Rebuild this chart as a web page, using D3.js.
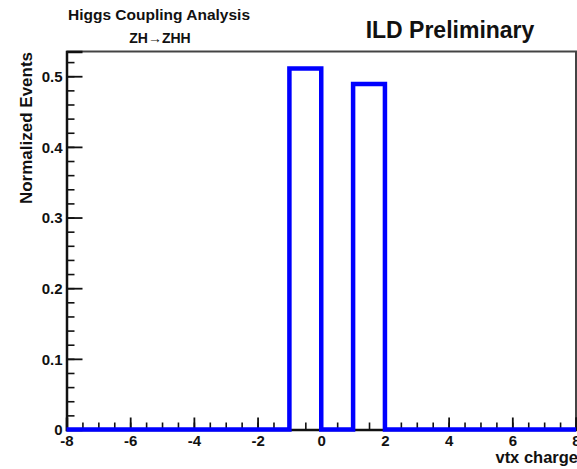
<!DOCTYPE html>
<html>
<head>
<meta charset="utf-8">
<script src="https://cdn.jsdelivr.net/npm/d3@7"></script>
<style>
    body { margin: 0; background: #fff; }
    svg { display: block; }
    text { font-family: "Liberation Sans", Arial, sans-serif; font-weight: bold; fill: #111; }
</style>
</head>
<body>
<div id="plot"></div>
<script>
// histogram bins (width 1) from -8 to 8, normalized events
var binEdges = [-8,-7,-6,-5,-4,-3,-2,-1,0,1,2,3,4,5,6,7,8];
var binValues = [0,0,0,0,0,0,0,0.511,0,0.489,0,0,0,0,0,0];

var xMajor = [-8,-6,-4,-2,0,2,4,6,8];
var xMinorStep = 0.5;
var yMajor = [0,0.1,0.2,0.3,0.4,0.5];
var yMinorStep = 0.02;
var yTickLabels = ["0","0.1","0.2","0.3","0.4","0.5"];

var titleLines = ["Higgs Coupling Analysis", "ZH\u2192ZHH"];
var stamp = "ILD Preliminary";
var xTitle = "vtx charge";
var yTitle = "Normalized Events";

class HistPlot {
    constructor(){
        this.width = 577;
        this.height = 469;
        this.frame = {left: 66.5, right: 576, top: 51.5, bottom: 429.5};
        this.init();
    }
    init(){
        this.svg = d3.select('#plot').append('svg')
            .attr('width', this.width)
            .attr('height', this.height);

        this.x = d3.scaleLinear().domain([-8, 8]).range([this.frame.left, this.frame.right]);
        this.y = d3.scaleLinear().domain([0, 0.535]).range([this.frame.bottom, this.frame.top]);

        this.drawFrame();
        this.drawAxis();
        this.drawHist();
        this.drawText();
    }
    drawFrame(){
        var f = this.frame;
        // top and right frame edges
        this.svg.append('path')
            .attr('d', 'M' + f.left + ',' + f.top + 'H' + f.right + 'V' + f.bottom)
            .attr('fill', 'none')
            .attr('stroke', '#444')
            .attr('stroke-width', 2);
    }
    drawAxis(){
        var f = this.frame;
        var xMinor = d3.range(-8, 8 + 1e-9, xMinorStep);
        var yMinor = d3.range(0, 0.535, yMinorStep);

        // minor ticks first, no labels
        this.svg.append('g')
            .attr('transform', 'translate(0,' + f.bottom + ')')
            .call(d3.axisBottom(this.x).tickValues(xMinor).tickSize(-7).tickFormat(''))
            .call(g => g.select('.domain').remove())
            .selectAll('line').attr('stroke', '#111').attr('stroke-width', 1.6);

        this.svg.append('g')
            .attr('transform', 'translate(' + f.left + ',0)')
            .call(d3.axisLeft(this.y).tickValues(yMinor).tickSize(-8).tickFormat(''))
            .call(g => g.select('.domain').remove())
            .selectAll('line').attr('stroke', '#111').attr('stroke-width', 1.6);

        // major ticks + labels
        var gx = this.svg.append('g')
            .attr('transform', 'translate(0,' + f.bottom + ')')
            .call(d3.axisBottom(this.x).tickValues(xMajor).tickSize(-12).tickPadding(0).tickFormat(d3.format('d')));
        gx.select('.domain').attr('stroke', '#111').attr('stroke-width', 2.5);
        gx.selectAll('line').attr('stroke', '#111').attr('stroke-width', 1.8);
        gx.selectAll('text')
            .attr('y', 16).attr('dy', 0)
            .style('font-size', '15px')
            .style('font-family', '"Liberation Sans", Arial, sans-serif')
            .style('font-weight', 'bold')
            .attr('fill', '#111')
            .text(d => d3.format('d')(d).replace('\u2212', '-'));

        var gy = this.svg.append('g')
            .attr('transform', 'translate(' + f.left + ',0)')
            .call(d3.axisLeft(this.y).tickValues(yMajor).tickSize(-16).tickPadding(4)
                .tickFormat((d, i) => yTickLabels[i]));
        gy.select('.domain').attr('stroke', '#111').attr('stroke-width', 2.5);
        gy.selectAll('line').attr('stroke', '#111').attr('stroke-width', 1.8);
        gy.selectAll('text')
            .attr('x', -4)
            .attr('dy', '0.36em')
            .style('font-size', '15px')
            .style('font-family', '"Liberation Sans", Arial, sans-serif')
            .style('font-weight', 'bold')
            .attr('fill', '#111');
    }
    drawHist(){
        // step outline through every bin
        var pts = [[binEdges[0], 0]];
        binValues.forEach((v, i) => {
            pts.push([binEdges[i], v]);
            pts.push([binEdges[i + 1], v]);
        });
        pts.push([binEdges[binEdges.length - 1], 0]);

        var line = d3.line()
            .x(d => this.x(d[0]))
            .y(d => this.y(d[1]));

        this.svg.append('path')
            .datum(pts)
            .attr('d', line)
            .attr('fill', 'none')
            .attr('stroke', '#0000ff')
            .attr('stroke-width', 4.5)
            .attr('stroke-linejoin', 'miter');
    }
    drawText(){
        this.svg.append('text')
            .attr('x', 159).attr('y', 20)
            .attr('text-anchor', 'middle')
            .style('font-size', '15.5px')
            .text(titleLines[0]);
        this.svg.append('text')
            .attr('x', 160).attr('y', 43)
            .attr('text-anchor', 'middle')
            .style('font-size', '14px')
            .text(titleLines[1]);

        this.svg.append('text')
            .attr('x', 450).attr('y', 38)
            .attr('text-anchor', 'middle')
            .style('font-size', '23px')
            .text(stamp);

        this.svg.append('text')
            .attr('x', 578).attr('y', 463)
            .attr('text-anchor', 'end')
            .style('font-size', '16.5px')
            .text(xTitle);

        this.svg.append('text')
            .attr('transform', 'translate(32,' + 128 + ') rotate(-90)')
            .attr('text-anchor', 'middle')
            .style('font-size', '17px')
            .text(yTitle);
    }
}

new HistPlot();
</script>
</body>
</html>
